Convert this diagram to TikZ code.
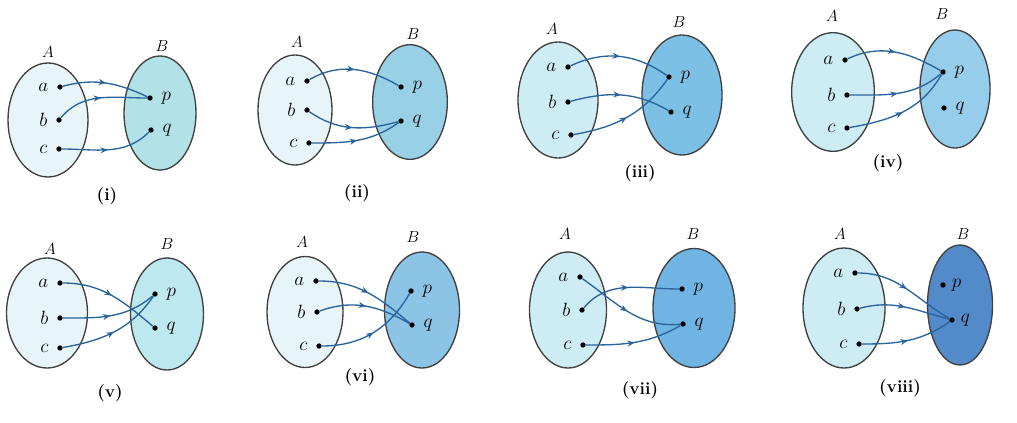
\documentclass[tikz,border=0pt]{standalone}
\usetikzlibrary{shapes.geometric,decorations.markings,arrows.meta}
\definecolor{Alight}{RGB}{232,245,248}
\definecolor{Amid}{RGB}{206,236,244}
\definecolor{Bi}{RGB}{178,226,232}
\definecolor{Bii}{RGB}{152,208,230}
\definecolor{Biii}{RGB}{125,192,230}
\definecolor{Biv}{RGB}{150,205,234}
\definecolor{Bv}{RGB}{190,232,240}
\definecolor{Bvi}{RGB}{140,196,230}
\definecolor{Bvii}{RGB}{112,180,228}
\definecolor{Bviii}{RGB}{82,138,202}
\definecolor{arrowblue}{RGB}{40,100,155}
\tikzset{
  setshape/.style={ellipse, draw=black!75, line width=1pt, inner sep=0pt},
  pt/.style={circle, fill=black, inner sep=0pt, minimum size=4pt},
  elemfont/.style={font=\fontsize{13.5}{15}\selectfont},
  elemL/.style={pt, label={[elemfont,label distance=3pt]left:{$#1$}}},
  elemR/.style={pt, label={[elemfont,label distance=3pt]right:{$#1$}}},
  map/.style={draw=arrowblue, line width=1pt, postaction={decorate},
    decoration={markings, mark=at position 0.5 with {\arrow{Stealth[length=5.5pt,width=4.5pt]}}}},
  setlbl/.style={font=\fontsize{13}{15}\selectfont},
  captext/.style={font=\fontsize{13}{15}\selectfont\bfseries},
}
\begin{document}
\begin{tikzpicture}[x=0.75pt,y=0.75pt]
\useasboundingbox (0,0) rectangle (1017,-422);
\fill[white] (0,0) rectangle (1017,-422);

% ---------- (i) ----------
\node[setshape, fill=Alight, minimum width=60pt, minimum height=85.5pt] (A1) at (48,-120) {};
\node[setshape, fill=Bi, minimum width=54pt, minimum height=85.5pt] (B1) at (160,-113) {};
\node[setlbl] (LA1) at (48,-52) {$A$};
\node[setlbl] (LB1) at (162,-46) {$B$};
\node[elemL=a] (a1) at (60,-87) {};
\node[elemL=b] (b1) at (59,-120) {};
\node[elemL=c] (c1) at (59,-149) {};
\node[elemR=p] (p1) at (150,-98) {};
\node[elemR=q] (q1) at (151,-130) {};
\draw[map] (a1) to[out=15,in=155] (p1);
\draw[map] (b1) to[out=50,in=180] (p1);
\draw[map] (c1) to[out=0,in=225] (q1);
\node[captext] (C1) at (107,-196) {(i)};

% ---------- (ii) ----------
\node[setshape, fill=Alight, minimum width=55.5pt, minimum height=82.5pt] (A2) at (295,-110) {};
\node[setshape, fill=Bii, minimum width=56pt, minimum height=86pt] (B2) at (410,-102) {};
\node[setlbl] (LA2) at (297,-42) {$A$};
\node[setlbl] (LB2) at (413,-34) {$B$};
\node[elemL=a] (a2) at (307,-81) {};
\node[elemL=b] (b2) at (307,-110) {};
\node[elemL=c] (c2) at (309,-143) {};
\node[elemR=p] (p2) at (401,-87) {};
\node[elemR=q] (q2) at (401,-121) {};
\draw[map] (a2) to[out=30,in=150] (p2);
\draw[map] (b2) to[out=-35,in=195] (q2);
\draw[map] (c2) to[out=0,in=215] (q2);
\node[captext] (C2) at (357,-193) {(ii)};

% ---------- (iii) ----------
\node[setshape, fill=Amid, minimum width=60pt, minimum height=87pt] (A3) at (558,-100) {};
\node[setshape, fill=Biii, minimum width=60pt, minimum height=90pt] (B3) at (682,-95) {};
\node[setlbl] (LA3) at (552,-29) {$A$};
\node[setlbl] (LB3) at (679,-22) {$B$};
\node[elemL=a] (a3) at (568,-67) {};
\node[elemL=b] (b3) at (568,-102) {};
\node[elemL=c] (c3) at (571,-135) {};
\node[elemR=p] (p3) at (669,-77) {};
\node[elemR=q] (q3) at (671,-112) {};
\draw[map] (a3) to[out=25,in=145] (p3);
\draw[map] (b3) to[out=15,in=150] (q3);
\draw[map] (c3) to[out=10,in=235] (p3);
\node[captext] (C3) at (640,-173) {(iii)};

% ---------- (iv) ----------
\node[setshape, fill=Amid, minimum width=62pt, minimum height=89pt] (A4) at (833,-92) {};
\node[setshape, fill=Biv, minimum width=52.5pt, minimum height=88.5pt] (B4) at (955,-89) {};
\node[setlbl] (LA4) at (832,-16) {$A$};
\node[setlbl] (LB4) at (942,-14) {$B$};
\node[elemL=a] (a4) at (845,-60) {};
\node[elemL=b] (b4) at (847,-95) {};
\node[elemL=c] (c4) at (847,-128) {};
\node[elemR=p] (p4) at (943,-72) {};
\node[elemR=q] (q4) at (944,-108) {};
\draw[map] (a4) to[out=25,in=150] (p4);
\draw[map] (b4) to[out=0,in=220] (p4);
\draw[map] (c4) to[out=10,in=240] (p4);
\node[captext] (C4) at (888,-163) {(iv)};

% ---------- (v) ----------
\node[setshape, fill=Alight, minimum width=60.75pt, minimum height=82.5pt] (A5) at (47,-313) {};
\node[setshape, fill=Bv, minimum width=54.75pt, minimum height=84pt] (B5) at (167,-314) {};
\node[setlbl] (LA5) at (50,-249) {$A$};
\node[setlbl] (LB5) at (167,-244) {$B$};
\node[elemL=a] (a5) at (60,-283) {};
\node[elemL=b] (b5) at (60,-318) {};
\node[elemL=c] (c5) at (60,-348) {};
\node[elemR=p] (p5) at (155,-294) {};
\node[elemR=q] (q5) at (155,-328) {};
\draw[map] (a5) to[out=0,in=140] (q5);
\draw[map] (b5) to[out=0,in=220] (p5);
\draw[map] (c5) to[out=10,in=235] (p5);
\node[captext] (C5) at (110,-393) {(v)};

% ---------- (vi) ----------
\node[setshape, fill=Alight, minimum width=57pt, minimum height=83.25pt] (A6) at (305,-312) {};
\node[setshape, fill=Bvi, minimum width=56.25pt, minimum height=87pt] (B6) at (422,-310) {};
\node[setlbl] (LA6) at (302,-242) {$A$};
\node[setlbl] (LB6) at (413,-237) {$B$};
\node[elemL=a] (a6) at (316,-281) {};
\node[elemL=b] (b6) at (317,-312) {};
\node[elemL=c] (c6) at (319,-346) {};
\node[elemR=p] (p6) at (411,-291) {};
\node[elemR=q] (q6) at (412,-325) {};
\draw[map] (a6) to[out=0,in=140] (q6);
\draw[map] (b6) to[out=20,in=150] (q6);
\draw[map] (c6) to[out=0,in=240] (p6);
\node[captext] (C6) at (360,-377) {(vi)};

% ---------- (vii) ----------
\node[setshape, fill=Amid, minimum width=57.75pt, minimum height=87pt] (A7) at (568,-310) {};
\node[setshape, fill=Bvii, minimum width=61.5pt, minimum height=89.25pt] (B7) at (694,-308) {};
\node[setlbl] (LA7) at (565,-234) {$A$};
\node[setlbl] (LB7) at (693,-234) {$B$};
\node[elemL=a] (a7) at (580,-277) {};
\node[elemL=b] (b7) at (582,-310) {};
\node[elemL=c] (c7) at (583,-345) {};
\node[elemR=p] (p7) at (682,-289) {};
\node[elemR=q] (q7) at (683,-324) {};
\draw[map] (a7) to[out=-35,in=185] (q7);
\draw[map] (b7) to[out=50,in=180] (p7);
\draw[map] (c7) to[out=0,in=210] (q7);
\node[captext] (C7) at (640,-390) {(vii)};

% ---------- (viii) ----------
\node[setshape, fill=Amid, minimum width=61.5pt, minimum height=90pt] (A8) at (844,-308) {};
\node[setshape, fill=Bviii, minimum width=48.75pt, minimum height=90pt] (B8) at (960,-305) {};
\node[setlbl] (LA8) at (840,-234) {$A$};
\node[setlbl] (LB8) at (963,-234) {$B$};
\node[elemL=a] (a8) at (855,-273) {};
\node[elemL=b] (b8) at (857,-309) {};
\node[elemL=c] (c8) at (859,-344) {};
\node[pt, label={[elemfont,label distance=1pt]right:{$p$}}] (p8) at (943,-285) {};
\node[pt, label={[elemfont,label distance=1pt]right:{$q$}}] (q8) at (952,-320) {};
\draw[map] (a8) to[out=0,in=150] (q8);
\draw[map] (b8) to[out=15,in=165] (q8);
\draw[map] (c8) to[out=0,in=215] (q8);
\node[captext] (C8) at (900,-388) {(viii)};
\end{tikzpicture}
\end{document}
